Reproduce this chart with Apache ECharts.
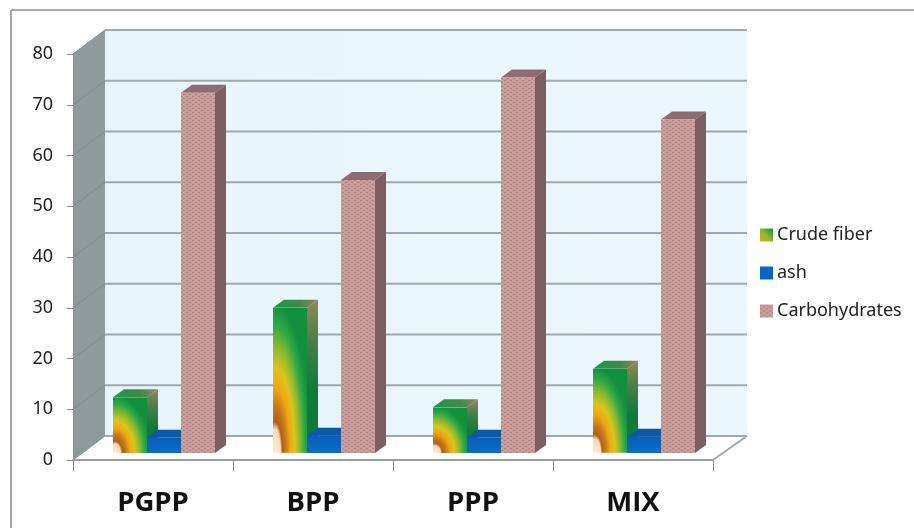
<!DOCTYPE html>
<html><head><meta charset="utf-8">
<style>html,body{margin:0;padding:0;background:#fff}#c{width:914px;height:528px}</style>
<script src="https://cdn.jsdelivr.net/npm/echarts@6/dist/echarts.min.js"></script>
</head><body><div id="c"></div>
<script>
const categories = ['PGPP','BPP','PPP','MIX'];
const crudeFiber = [11, 28.6, 9, 16.6];
const ash = [3, 3.4, 3, 3.2];
const carbohydrates = [71, 53.8, 74, 65.7];
const yTicks = [0,10,20,30,40,50,60,70,80];

const WALL_DX = 32, WALL_DX_R = 34, WALL_DY = -24; // depth of the chart box
const BAR_W = 34, BAR_DX = 11, BAR_DY = -8;        // bar size and depth
const BAR_SHIFT_X = 11, BAR_SHIFT_Y = -7;          // bars stand part way back on the floor

function crudeFill(w, h, x, y) {
  const cv = document.createElement('canvas');
  cv.width = w; cv.height = Math.max(1, Math.round(h));
  const c = cv.getContext('2d');
  c.fillStyle = '#12903e'; c.fillRect(0,0,w,cv.height);
  c.save(); c.translate(2, cv.height); c.scale(w*1.02, cv.height*1.02);
  const g = c.createRadialGradient(0,0,0,0,0,1);
  [[0,'#fdeccf'],[.16,'#fbdcb8'],[.21,'#b0601c'],[.31,'#c4781a'],[.44,'#eda80f'],[.57,'#dcc320'],
   [.71,'#8fbb2d'],[.86,'#2fa845'],[1,'#12903e']].forEach(s=>g.addColorStop(s[0],s[1]));
  c.fillStyle = g; c.fillRect(-0.1,-1.1,1.2,1.2); c.restore();
  return {image: cv, repeat: 'no-repeat', x, y};
}
function carboTexture() {
  const cv = document.createElement('canvas'); cv.width = 6; cv.height = 4;
  const c = cv.getContext('2d');
  c.fillStyle = '#c79b9e'; c.fillRect(0,0,6,4);
  c.fillStyle = '#ab7f86'; c.fillRect(0,0,2,1); c.fillRect(3,2,2,1);
  c.fillStyle = '#d3a596'; c.fillRect(3,0,2,1); c.fillRect(0,2,2,1);
  return {image: cv, repeat: 'repeat'};
}
const carboFill = carboTexture();
const crudeLegend = {type:'linear',x:0,y:1,x2:1,y2:0,colorStops:[{offset:0,color:'#e8a818'},{offset:.5,color:'#8ab82e'},{offset:1,color:'#149040'}]};
const sideGreen = {type:'linear',x:0,y:0,x2:0,y2:1,colorStops:[{offset:0,color:'#94865a'},{offset:.3,color:'#3f7f48'},{offset:.6,color:'#0f7a3a'},{offset:1,color:'#0f7a3a'}]};
const topGreen = {type:'linear',x:0,y:1,x2:1,y2:0,colorStops:[{offset:0,color:'#1a9a45'},{offset:.6,color:'#3f8a4a'},{offset:1,color:'#94865a'}]};
const ashFront = {type:'linear',x:0,y:0,x2:0,y2:1,colorStops:[{offset:0,color:'#0a5fb4'},{offset:1,color:'#0a6ccb'}]};

const faces = {
  'Crude fiber': {side: sideGreen, top: topGreen},
  'ash': {side: '#0a4f90', top: '#0c5aa6', front: ashFront},
  'Carbohydrates': {side: '#7d5d62', top: '#8f6a70', front: carboFill}
};

function poly(points, fill) {
  return {type:'polygon', shape:{points}, style:{fill}, silent:true};
}
function barItem(name, slot) {
  return function (params, api) {
    const base = api.coord([api.value(0), 0]);
    const head = api.coord([api.value(0), api.value(1)]);
    const x0 = base[0] + BAR_SHIFT_X - 1.5*BAR_W + slot*BAR_W;
    const x1 = x0 + BAR_W;
    const y0 = base[1] + BAR_SHIFT_Y;
    const y1 = head[1] + BAR_SHIFT_Y;
    const f = faces[name];
    const front = f.front || crudeFill(BAR_W, y0-y1, x0, y1);
    return {type:'group', children:[
      poly([[x1,y0],[x1+BAR_DX,y0+BAR_DY],[x1+BAR_DX,y1+BAR_DY],[x1,y1]], f.side),
      poly([[x0,y1],[x1,y1],[x1+BAR_DX,y1+BAR_DY],[x0+BAR_DX,y1+BAR_DY]], f.top),
      {type:'rect', shape:{x:x0,y:y1,width:BAR_W,height:y0-y1}, style:{fill:front}, silent:true}
    ]};
  };
}
function wallItem(params, api) {
  const cs = params.coordSys;
  const yB = api.coord([0,0])[1], yT = api.coord([0,80])[1];
  const L = cs.x, R = cs.x + cs.width;
  const kids = [
    poly([[L+WALL_DX,yT+WALL_DY],[R+WALL_DX_R,yT+WALL_DY],[R+WALL_DX_R,yB+WALL_DY],[L+WALL_DX,yB+WALL_DY]],
      {type:'linear',x:0,y:0,x2:1,y2:0,colorStops:[{offset:0,color:'#e7f5fa'},{offset:1,color:'#ebf7fb'}]}),
    poly([[L,yB],[L+WALL_DX,yB+WALL_DY],[L+WALL_DX,yT+WALL_DY],[L,yT]], '#8f9a9c'),
    poly([[L,yB],[L+WALL_DX,yB+WALL_DY],[R+WALL_DX_R,yB+WALL_DY],[R,yB]], '#ffffff')
  ];
  yTicks.forEach(t => {
    const y = api.coord([0,t])[1];
    kids.push({type:'line',shape:{x1:L+WALL_DX,y1:y+WALL_DY,x2:R+WALL_DX_R,y2:y+WALL_DY},style:{stroke:'#a0a8ab',lineWidth:2},silent:true});
    kids.push({type:'line',shape:{x1:L,y1:y,x2:L+WALL_DX,y2:y+WALL_DY},style:{stroke:'#7f8a8c',lineWidth:1},silent:true});
  });
  kids.push({type:'line',shape:{x1:R,y1:yB,x2:R+WALL_DX_R,y2:yB+WALL_DY},style:{stroke:'#a0a8ab',lineWidth:2},silent:true});
  return {type:'group',children:kids};
}

const chart = echarts.init(document.getElementById('c'), null, {renderer:'canvas'});
chart.setOption({
  animation:false,
  backgroundColor:'#ffffff',
  graphic:[
    {type:'line',shape:{x1:11,y1:10,x2:914,y2:10},style:{stroke:'#a8a8a8',lineWidth:2},silent:true},
    {type:'line',shape:{x1:11,y1:10,x2:11,y2:528},style:{stroke:'#a8a8a8',lineWidth:2},silent:true}
  ],
  grid:{left:73,right:201,top:54,bottom:68,containLabel:false},
  legend:{
    orient:'vertical',left:755,top:221,itemWidth:13,itemHeight:13,itemGap:20,
    icon:'rect',selectedMode:false,
    data:['Crude fiber','ash','Carbohydrates'],
    textStyle:{fontFamily:'Noto Sans',fontSize:18,color:'#222',padding:[0,0,0,-1]}
  },
  xAxis:{
    type:'category',data:categories,z:5,
    axisLine:{lineStyle:{color:'#9a9ea0',width:2}},
    axisTick:{show:true,alignWithLabel:false,length:11,lineStyle:{color:'#8a8e90',width:1}},
    axisLabel:{fontFamily:'Open Sans',fontWeight:'bold',fontSize:27.5,color:'#111',margin:29},
    splitLine:{show:false}
  },
  yAxis:{
    type:'value',min:0,max:80,interval:10,z:5,
    axisLine:{show:true,lineStyle:{color:'#8a8e90',width:1}},
    axisTick:{show:true,length:6,lineStyle:{color:'#8a8e90',width:1}},
    axisLabel:{fontFamily:'Noto Sans',fontSize:18,color:'#222',margin:20,padding:[3,0,0,0]},
    splitLine:{show:false}
  },
  tooltip:{show:false},
  series:[
    {type:'custom',name:'walls',renderItem:wallItem,data:[[0,0]],z:1,silent:true,clip:false},
    {type:'custom',name:'Crude fiber',renderItem:barItem('Crude fiber',0),data:crudeFiber.map((v,i)=>[i,v]),encode:{x:0,y:1},z:2,itemStyle:{color:crudeLegend},clip:false},
    {type:'custom',name:'ash',renderItem:barItem('ash',1),data:ash.map((v,i)=>[i,v]),encode:{x:0,y:1},z:3,itemStyle:{color:'#0a66c2'},clip:false},
    {type:'custom',name:'Carbohydrates',renderItem:barItem('Carbohydrates',2),data:carbohydrates.map((v,i)=>[i,v]),encode:{x:0,y:1},z:4,itemStyle:{color:carboFill},clip:false}
  ]
});
</script></body></html>
